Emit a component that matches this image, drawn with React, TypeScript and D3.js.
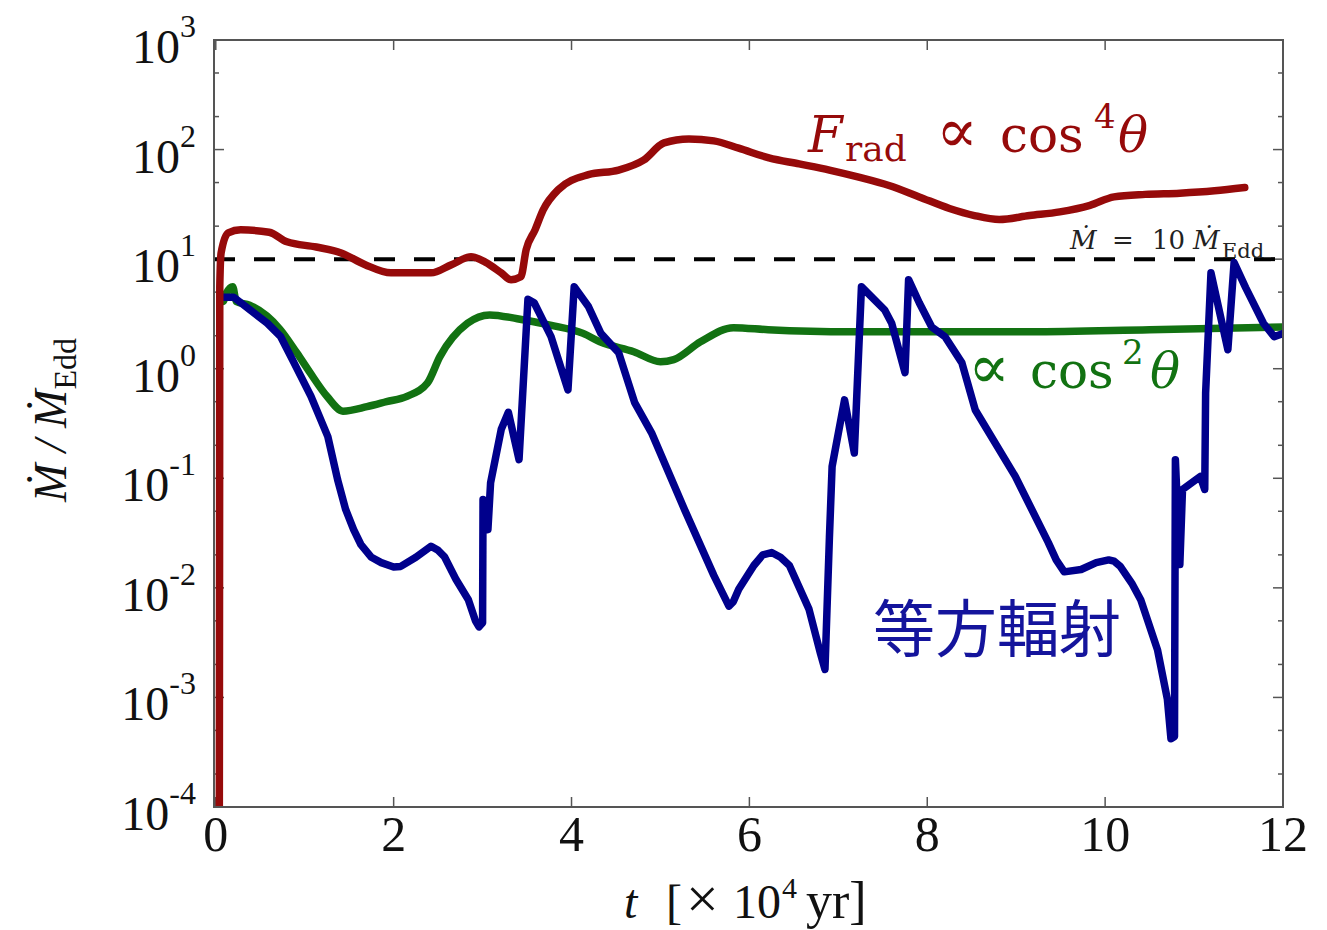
import React from 'react';
import * as d3 from 'd3';

// t [x10^4 yr], Mdot / Mdot_Edd
const fradCos4 = [
  [0.04, 1e-4], [0.045, 5.6], [0.06, 11.4], [0.14, 17.4], [0.28, 18.5], [0.6, 17.6],
  [0.8, 14.4], [1.13, 12.9], [1.41, 11.4], [1.68, 8.9], [1.97, 7.5], [2.42, 7.5],
  [2.65, 8.9], [2.87, 10.5], [3.03, 9.4], [3.21, 7.5], [3.32, 6.5], [3.43, 6.9],
  [3.49, 12.2], [3.59, 18.5], [3.68, 28], [3.85, 43], [4.19, 59], [4.53, 65],
  [4.81, 80], [5.04, 115], [5.32, 125], [5.6, 120], [5.88, 103], [6.22, 84],
  [6.56, 74], [6.9, 65], [7.23, 56], [7.57, 47], [7.91, 37], [8.25, 29], [8.53, 25],
  [8.81, 23], [9.15, 25], [9.49, 27], [9.83, 31], [10.1, 37], [10.45, 39],
  [10.84, 40], [11.23, 42], [11.57, 45],
];

const cos2 = [
  [0.05, 4.9], [0.08, 4.1], [0.12, 4.9], [0.19, 5.6], [0.23, 4.1], [0.38, 3.8],
  [0.72, 2.3], [0.91, 1.4], [1.06, 0.92], [1.25, 0.56], [1.43, 0.41], [1.7, 0.45],
  [1.92, 0.5], [2.15, 0.56], [2.38, 0.74], [2.52, 1.29], [2.83, 2.6], [3.08, 3.1],
  [3.39, 2.86], [3.76, 2.5], [4.13, 2.1], [4.32, 1.76], [4.7, 1.43], [5.0, 1.16],
  [5.15, 1.21], [5.45, 1.76], [5.82, 2.37], [6.21, 2.27], [7.14, 2.17], [9.16, 2.17],
  [10.5, 2.27], [12.0, 2.4],
];

const isotropic = [
  [0.05, 4.5], [0.2, 4.5], [0.58, 2.6], [0.73, 1.96], [0.88, 1.13], [1.07, 0.56],
  [1.26, 0.24], [1.37, 0.097], [1.46, 0.052], [1.55, 0.034], [1.63, 0.025], [1.75, 0.019],
  [1.86, 0.017], [2.0, 0.0155], [2.08, 0.0157], [2.25, 0.019], [2.42, 0.024], [2.5, 0.022],
  [2.57, 0.0193], [2.7, 0.012], [2.84, 0.0078], [2.92, 0.005], [2.96, 0.0044],
  [3.0, 0.0048], [3.005, 0.064], [3.06, 0.034], [3.09, 0.091], [3.21, 0.28],
  [3.29, 0.4], [3.41, 0.148], [3.51, 4.3], [3.58, 4.0], [3.77, 1.96], [3.96, 0.64],
  [4.03, 5.6], [4.19, 3.7], [4.33, 2.1], [4.53, 1.4], [4.71, 0.49], [4.9, 0.26],
  [5.27, 0.052], [5.6, 0.013], [5.77, 0.0068], [5.82, 0.0075], [5.88, 0.0097],
  [6.05, 0.016], [6.15, 0.02], [6.25, 0.021], [6.35, 0.019], [6.45, 0.016],
  [6.67, 0.0064], [6.8, 0.0025], [6.85, 0.0018], [6.9, 0.029], [6.93, 0.128], [7.07, 0.52],
  [7.18, 0.17], [7.26, 5.6], [7.52, 3.45], [7.6, 2.6], [7.75, 0.92], [7.79, 6.5],
  [7.91, 4.0], [8.05, 2.4], [8.2, 1.96], [8.39, 1.13], [8.54, 0.42], [8.99, 0.104],
  [9.36, 0.026], [9.45, 0.018], [9.54, 0.014], [9.73, 0.0147], [9.9, 0.017],
  [10.04, 0.018], [10.1, 0.0175], [10.17, 0.0157], [10.3, 0.011], [10.4, 0.0078],
  [10.59, 0.0027], [10.7, 0.00096], [10.74, 0.00042], [10.78, 0.00044],
  [10.79, 0.148], [10.84, 0.0163], [10.87, 0.079], [11.07, 0.104], [11.12, 0.079],
  [11.13, 0.6], [11.19, 7.5], [11.38, 1.49], [11.45, 9.3], [11.58, 5.5], [11.78, 2.6],
  [11.9, 1.96], [12.0, 2.1],
];

const eddLimit = 10;
const xTicks = [0, 2, 4, 6, 8, 10, 12];
const yExponents = [-4, -3, -2, -1, 0, 1, 2, 3];
const minorMult = [2, 5];

const W = 1327, H = 930;
const L = 214, R = 1283, T = 40, B = 807;

const serif = '"Liberation Serif", "Times New Roman", serif';
const math = '"DejaVu Serif", serif';
const RED = '#960a0a', GREEN = '#127212', BLUE = '#00008c', FRAME = '#555';

export default function App() {
  const x = d3.scaleLinear().domain([-0.02, 12]).range([L, R]);
  const y = d3.scaleLog().domain([1e-4, 1e3]).range([B, T]);
  const smooth = d3.line<number[]>().x(d => x(d[0])).y(d => y(d[1])).curve(d3.curveMonotoneX);
  const straight = d3.line<number[]>().x(d => x(d[0])).y(d => y(d[1]));

  const minors: number[] = [];
  yExponents.slice(0, -1).forEach(e => minorMult.forEach(m => minors.push(m * 10 ** e)));

  return (
    <svg width={W} height={H} style={{ position: 'absolute', left: 0, top: 0, background: '#fff' }}>
      <defs>
        <clipPath id="plot"><rect x={L} y={T} width={R - L} height={B - T} /></clipPath>
      </defs>

      {/* ticks */}
      <g stroke={FRAME} strokeWidth={1.5}>
        {xTicks.map(t => (
          <g key={t}>
            <line x1={x(t)} x2={x(t)} y1={B} y2={B - 10} />
            <line x1={x(t)} x2={x(t)} y1={T} y2={T + 10} />
          </g>
        ))}
        {yExponents.map(e => (
          <g key={e}>
            <line x1={L} x2={L + 10} y1={y(10 ** e)} y2={y(10 ** e)} />
            <line x1={R} x2={R - 10} y1={y(10 ** e)} y2={y(10 ** e)} />
          </g>
        ))}
        {minors.map((v, i) => (
          <g key={i}>
            <line x1={L} x2={L + 5} y1={y(v)} y2={y(v)} />
            <line x1={R} x2={R - 5} y1={y(v)} y2={y(v)} />
          </g>
        ))}
      </g>

      <g clipPath="url(#plot)" fill="none" strokeLinejoin="round" strokeLinecap="round">
        <line x1={L} x2={R} y1={y(eddLimit)} y2={y(eddLimit)} stroke="#000" strokeWidth={4}
          strokeDasharray="21 19" strokeLinecap="butt" />
        <path d={smooth(cos2) || ''} stroke={GREEN} strokeWidth={7.5} />
        <path d={straight(isotropic) || ''} stroke={BLUE} strokeWidth={7.5} />
        <path d={smooth(fradCos4) || ''} stroke={RED} strokeWidth={7.5} />
      </g>

      <rect x={L} y={T} width={R - L} height={B - T} fill="none" stroke={FRAME} strokeWidth={2} />

      {/* tick labels */}
      <g fontFamily={serif} fill="#111">
        {yExponents.map(e => (
          <text key={e} x={196} y={y(10 ** e) + 23} textAnchor="end" fontSize={48}>
            10<tspan dy={-26} fontSize={32}>{String(e)}</tspan>
          </text>
        ))}
        {xTicks.map(t => (
          <text key={t} x={x(t)} y={851} textAnchor="middle" fontSize={50}>{t}</text>
        ))}
        <text y={918} fontSize={48}>
          <tspan x={624} fontStyle="italic">t</tspan>
          <tspan x={666}>[</tspan>
          <tspan x={686} fontSize={58}>×</tspan>
          <tspan x={733} fontSize={48}>10</tspan>
          <tspan x={782} dy={-20} fontSize={30}>4</tspan>
          <tspan x={806} dy={20} fontSize={52}>yr]</tspan>
        </text>
        <text transform="translate(66,420) rotate(-90)" textAnchor="middle" fontSize={46}>
          <tspan fontStyle="italic">Ṁ / Ṁ</tspan>
          <tspan dy={10} fontSize={32}>Edd</tspan>
        </text>
      </g>

      {/* annotations */}
      <g fontFamily={math}>
        <text fill={RED} fontSize={50} y={152}>
          <tspan x={808} fontStyle="italic">F</tspan>
          <tspan x={845} dy={9} fontSize={36}>rad</tspan>
          <tspan x={936} dy={-9} fontSize={62}>∝</tspan>
          <tspan x={1000} fontSize={50}>cos</tspan>
          <tspan x={1094} dy={-24} fontSize={34}>4</tspan>
          <tspan x={1118} dy={24} fontStyle="italic" fontSize={50}>θ</tspan>
        </text>
        <text fill={GREEN} fontSize={50} y={388}>
          <tspan x={968} fontSize={62}>∝</tspan>
          <tspan x={1030} fontSize={50}>cos</tspan>
          <tspan x={1122} dy={-24} fontSize={34}>2</tspan>
          <tspan x={1150} dy={24} fontStyle="italic" fontSize={50}>θ</tspan>
        </text>
        <text fill="#222" fontSize={26} y={249}>
          <tspan x={1070} fontStyle="italic">Ṁ</tspan>
          <tspan x={1112}>=</tspan>
          <tspan x={1152}>10</tspan>
          <tspan x={1193} fontStyle="italic">Ṁ</tspan>
          <tspan x={1222} dy={9} fontSize={21}>Edd</tspan>
        </text>
      </g>
      <text x={873} y={652} fontSize={62} fill="#14149c"
        fontFamily='"Noto Sans CJK JP", "Noto Sans CJK SC", sans-serif'>等方輻射</text>
    </svg>
  );
}
